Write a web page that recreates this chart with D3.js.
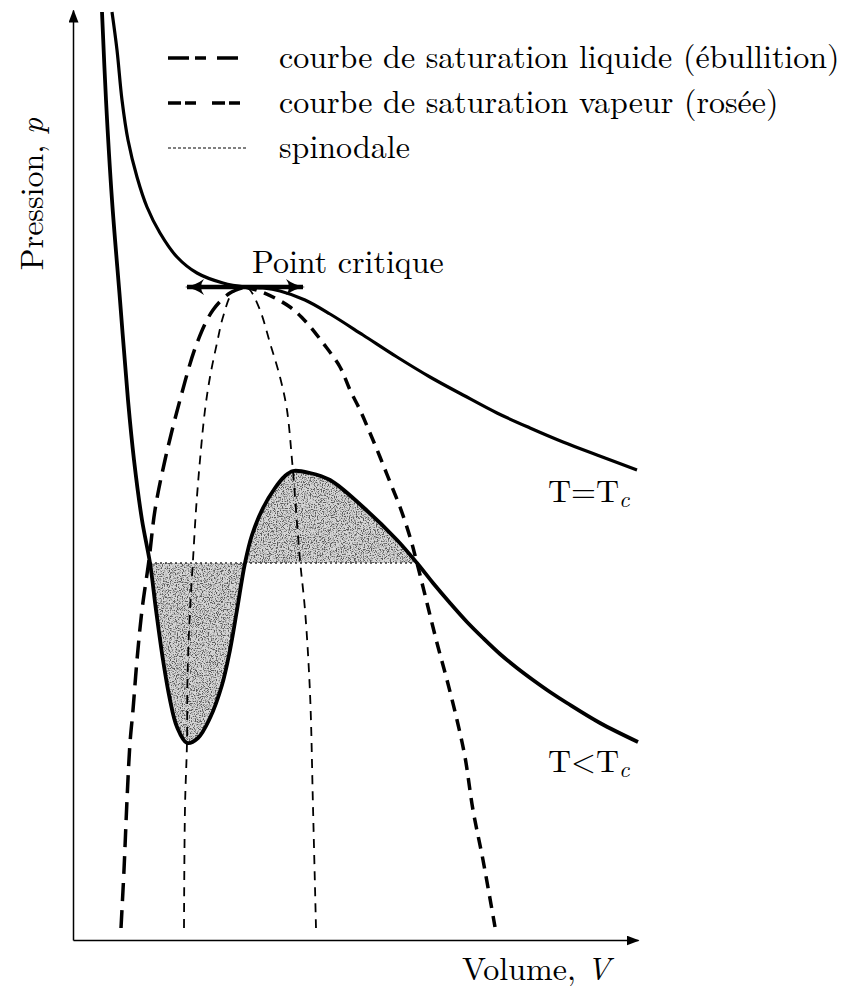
<!DOCTYPE html>
<html>
<head>
<meta charset="utf-8">
<script src="https://cdn.jsdelivr.net/npm/d3@7"></script>
</head>
<body style="margin:0;background:#fff">
<svg id="chart" width="857" height="988"></svg>
<script>
// isotherms, [V, p] (arbitrary units)
const isothermCritical = [
  [0.78, 9.28], [0.88, 8.90], [0.98, 8.40], [1.10, 8.00], [1.28, 7.63], [1.48, 7.33],
  [1.74, 7.07], [2.08, 6.83], [2.48, 6.67], [3.00, 6.57], [3.44, 6.53], [3.80, 6.52],
  [4.14, 6.49], [4.64, 6.40], [5.14, 6.26], [5.80, 6.05], [6.48, 5.83], [7.14, 5.63],
  [7.80, 5.45], [8.48, 5.27], [9.14, 5.12], [9.80, 4.98], [10.48, 4.85], [11.28, 4.70]
];
const isothermBelow = [
  [0.58, 9.28], [0.66, 8.40], [0.78, 7.40], [0.94, 6.40], [1.10, 5.40], [1.22, 4.80],
  [1.38, 4.20], [1.54, 3.77], [1.66, 3.30], [1.80, 2.80], [1.94, 2.40], [2.08, 2.13],
  [2.28, 1.97], [2.50, 2.02], [2.74, 2.22], [2.98, 2.55], [3.14, 2.90], [3.28, 3.30],
  [3.44, 3.77], [3.58, 4.05], [3.80, 4.32], [4.04, 4.52], [4.24, 4.64], [4.40, 4.69],
  [4.74, 4.67], [5.14, 4.60], [5.80, 4.33], [6.48, 4.00], [6.88, 3.77], [7.20, 3.57],
  [7.54, 3.37], [7.88, 3.18], [8.20, 3.02], [8.54, 2.86], [8.88, 2.72], [9.20, 2.60],
  [9.54, 2.48], [9.88, 2.37], [10.54, 2.17], [11.30, 1.98]
];
// saturation curves
const liquidCurve = [
  [0.96, 0.12], [1.02, 0.70], [1.08, 1.40], [1.14, 1.97], [1.20, 2.30], [1.28, 2.80],
  [1.38, 3.30], [1.52, 3.80], [1.64, 4.30], [1.84, 4.80], [2.14, 5.40], [2.48, 5.97],
  [2.80, 6.30], [3.14, 6.47], [3.44, 6.53]
];
const vaporCurve = [
  [3.44, 6.53], [3.78, 6.48], [4.34, 6.33], [4.68, 6.17], [5.00, 5.97], [5.34, 5.73],
  [5.54, 5.50], [5.74, 5.30], [5.94, 5.07], [6.14, 4.83], [6.34, 4.58], [6.54, 4.33],
  [6.74, 4.03], [6.88, 3.77], [7.08, 3.37], [7.28, 2.97], [7.48, 2.60], [7.68, 2.20],
  [7.84, 1.83], [8.00, 1.30], [8.20, 0.80], [8.44, 0.13]
];
const spinodal = [
  [2.22, 0.12], [2.24, 1.33], [2.28, 1.98], [2.29, 2.63], [2.34, 3.30], [2.40, 3.80],
  [2.46, 4.30], [2.54, 4.80], [2.64, 5.30], [2.74, 5.63], [2.88, 5.97], [3.00, 6.23],
  [3.20, 6.48], [3.44, 6.53], [3.54, 6.50], [3.74, 6.30], [3.94, 5.97], [4.14, 5.63],
  [4.28, 5.30], [4.38, 4.80], [4.40, 4.69], [4.54, 3.80], [4.64, 3.30], [4.74, 2.47],
  [4.80, 1.33], [4.86, 0.12]
];
const plateauP = 3.77;
const plateauV = [1.54, 6.88];
const criticalP = 6.53;
const criticalArrowV = [2.28, 4.60];
const legendLabels = [
  "courbe de saturation liquide (ébullition)",
  "courbe de saturation vapeur (rosée)",
  "spinodale"
];

const svg = d3.select("#chart")
    .style("font-family", '"Latin Modern Roman", "Liberation Serif", serif')
    .style("font-size", "32px");
const x = d3.scaleLinear().domain([0, 11.3]).range([73, 638]);
const y = d3.scaleLinear().domain([0, 9.3]).range([940, 10]);
const line = d3.line().x(d => x(d[0])).y(d => y(d[1])).curve(d3.curveCatmullRom);

const defs = svg.append("defs");
defs.append("marker")
    .attr("id", "axisHead")
    .attr("viewBox", "0 -5 13 10")
    .attr("refX", 12).attr("refY", 0)
    .attr("markerUnits", "userSpaceOnUse")
    .attr("markerWidth", 13).attr("markerHeight", 10)
    .attr("orient", "auto")
  .append("path").attr("d", "M0,-5L13,0L0,5Z").attr("fill", "#000");
defs.append("marker")
    .attr("id", "critHead")
    .attr("viewBox", "0 -8 19 16")
    .attr("refX", 17).attr("refY", 0)
    .attr("markerUnits", "userSpaceOnUse")
    .attr("markerWidth", 19).attr("markerHeight", 16)
    .attr("orient", "auto-start-reverse")
  .append("path").attr("d", "M0,-8Q8,-2 19,0Q8,2 0,8Q6,0 0,-8Z").attr("fill", "#000");

// stipple texture for the shaded lobes
const grain = defs.append("filter").attr("id", "grain")
    .attr("x", 0).attr("y", 0).attr("width", "100%").attr("height", "100%");
grain.append("feTurbulence").attr("type", "fractalNoise").attr("baseFrequency", 0.85)
    .attr("numOctaves", 2).attr("seed", 4).attr("result", "noise");
grain.append("feColorMatrix").attr("in", "noise").attr("type", "matrix")
    .attr("values", "0 0 0 0 0.1  0 0 0 0 0.1  0 0 0 0 0.1  0 0 0 5 -2.3")
    .attr("result", "dots");
grain.append("feComposite").attr("in", "dots").attr("in2", "SourceGraphic")
    .attr("operator", "in").attr("result", "clipped");
const merge = grain.append("feMerge");
merge.append("feMergeNode").attr("in", "SourceGraphic");
merge.append("feMergeNode").attr("in", "clipped");

// axes
svg.append("g")
    .attr("transform", `translate(0,${y(0)})`)
    .call(d3.axisBottom(x).tickValues([]).tickSizeOuter(0))
    .call(g => g.select(".domain").attr("stroke-width", 1.5).attr("marker-end", "url(#axisHead)"));
svg.append("g")
    .attr("transform", `translate(${x(0)},0)`)
    .call(d3.axisLeft(y).tickValues([]).tickSizeOuter(0))
    .call(g => g.select(".domain").attr("stroke-width", 1.5).attr("marker-end", "url(#axisHead)"));

// shaded lobes between the isotherm and the plateau
const lobe = isothermBelow.filter(d => d[0] >= plateauV[0] && d[0] <= plateauV[1]);
svg.append("path")
    .attr("d", d3.area().x(d => x(d[0])).y0(y(plateauP)).y1(d => y(d[1])).curve(d3.curveCatmullRom)(lobe))
    .attr("fill", "#d6d6d6")
    .attr("filter", "url(#grain)");
svg.append("line")
    .attr("x1", x(plateauV[0])).attr("x2", x(plateauV[1]))
    .attr("y1", y(plateauP)).attr("y2", y(plateauP))
    .attr("stroke", "#333").attr("stroke-width", 1.6).attr("stroke-dasharray", "2,3");

// dashed curves
svg.append("path").attr("d", line(spinodal))
    .attr("fill", "none").attr("stroke", "#000").attr("stroke-width", 1.8).attr("stroke-dasharray", "9,7");
svg.append("path").attr("d", line(liquidCurve))
    .attr("fill", "none").attr("stroke", "#000").attr("stroke-width", 3.5).attr("stroke-dasharray", "18,9");
svg.append("path").attr("d", line(vaporCurve))
    .attr("fill", "none").attr("stroke", "#000").attr("stroke-width", 3.5).attr("stroke-dasharray", "12,8");

// isotherms
svg.append("path").attr("d", line(isothermCritical))
    .attr("fill", "none").attr("stroke", "#000").attr("stroke-width", 3.2);
svg.append("path").attr("d", line(isothermBelow))
    .attr("fill", "none").attr("stroke", "#000").attr("stroke-width", 3.8);

// critical point arrow
svg.append("line")
    .attr("x1", x(criticalArrowV[0])).attr("x2", x(criticalArrowV[1]))
    .attr("y1", y(criticalP)).attr("y2", y(criticalP))
    .attr("stroke", "#000").attr("stroke-width", 4.5)
    .attr("marker-start", "url(#critHead)").attr("marker-end", "url(#critHead)");
svg.append("text").attr("x", 252).attr("y", 273).text("Point critique");

// curve labels
const subLabel = (tx, ty, main) => {
  const t = svg.append("text").attr("x", tx).attr("y", ty);
  t.append("tspan").text(main);
  t.append("tspan").style("font-style", "italic").style("font-size", "23px").attr("dy", 5).text("c");
};
subLabel(548, 502, "T=T");
subLabel(548, 772, "T<T");

// axis titles
const yTitle = svg.append("text")
    .attr("transform", "translate(43,194) rotate(-90)")
    .attr("text-anchor", "middle");
yTitle.append("tspan").text("Pression, ");
yTitle.append("tspan").style("font-style", "italic").text("p");
const xTitle = svg.append("text").attr("x", 462).attr("y", 980);
xTitle.append("tspan").text("Volume, ");
xTitle.append("tspan").style("font-style", "italic").text("V");

// legend
const legendStyles = [
  {w: 3.5, dash: "21,6,11,11", len: 70},
  {w: 3.5, dash: "13,4,11,16", len: 80},
  {w: 1, dash: "3,2", len: 80}
];
const legend = svg.append("g").attr("class", "legend");
legendLabels.forEach((label, i) => {
  const cy = 58 + i * 45;
  legend.append("line")
      .attr("x1", 168).attr("x2", 168 + legendStyles[i].len)
      .attr("y1", cy).attr("y2", cy)
      .attr("stroke", "#000").attr("stroke-width", legendStyles[i].w)
      .attr("stroke-dasharray", legendStyles[i].dash);
  legend.append("text")
      .attr("x", 279).attr("y", cy + 10)
      .text(label);
});
</script>
</body>
</html>
